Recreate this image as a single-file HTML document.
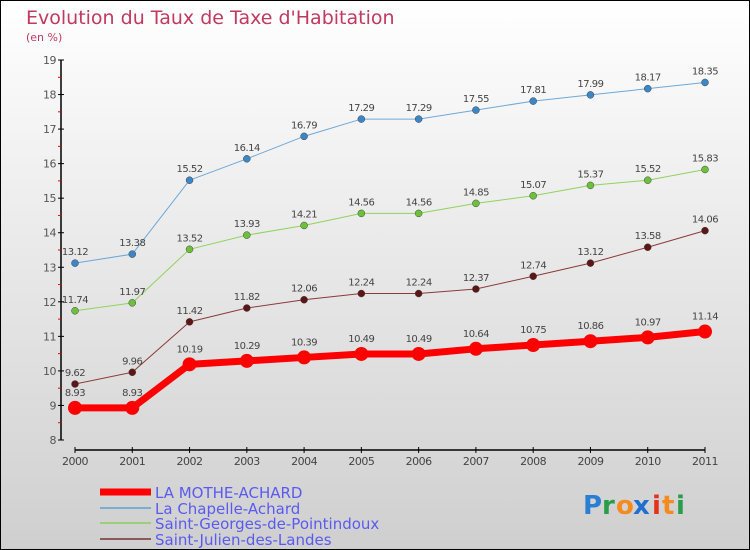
<!DOCTYPE html>
<html><head><meta charset="utf-8"><style>
body{margin:0;width:750px;height:550px;overflow:hidden}
svg{display:block;font-family:"DejaVu Sans","Liberation Sans",sans-serif}
</style></head><body>
<svg id="c" width="750" height="550" xmlns="http://www.w3.org/2000/svg">
<defs>
<linearGradient id="bg" x1="0" y1="0" x2="0" y2="1"><stop offset="0" stop-color="#ffffff"/><stop offset="1" stop-color="#cfcfcf"/></linearGradient>
</defs>
<rect x="0.5" y="0.5" width="749" height="549" fill="url(#bg)" stroke="#000"/>
<text x="26" y="24" font-size="19" fill="#c0395f">Evolution du Taux de Taxe d'Habitation</text>
<text x="26" y="41" font-size="11" fill="#c0395f">(en %)</text>
<g id="axes"></g>
<g id="series"></g>
<g id="legend"></g>
<g font-family="'DejaVu Sans',sans-serif" font-size="26" font-weight="bold">
<text x="583" y="514" fill="#2a7fd4">P</text><text x="602" y="514" fill="#2a9d4a">r</text><text x="616" y="514" fill="#f58a1f">o</text><text x="633" y="514" fill="#1f6fd0">x</text><text x="652" y="514" fill="#e5321c">i</text><text x="662" y="514" fill="#f58a1f">t</text><text x="676" y="514" fill="#2a9d4a">i</text>
</g>
</svg>
<script>
const years=["2000","2001","2002","2003","2004","2005","2006","2007","2008","2009","2010","2011"];
const yTicks=[8,9,10,11,12,13,14,15,16,17,18,19];
const mothe=[8.93,8.93,10.19,10.29,10.39,10.49,10.49,10.64,10.75,10.86,10.97,11.14];
const chapelle=[13.12,13.38,15.52,16.14,16.79,17.29,17.29,17.55,17.81,17.99,18.17,18.35];
const georges=[11.74,11.97,13.52,13.93,14.21,14.56,14.56,14.85,15.07,15.37,15.52,15.83];
const julien=[9.62,9.96,11.42,11.82,12.06,12.24,12.24,12.37,12.74,13.12,13.58,14.06];
const NS="http://www.w3.org/2000/svg";
const X=i=>75+i*(630/11);
const Y=v=>440-(v-8)*(380/11);
function mk(t,a,p){const e=document.createElementNS(NS,t);for(const k in a)e.setAttribute(k,a[k]);p.appendChild(e);return e;}
const ax=document.getElementById('axes');
let l=mk('line',{x1:61,y1:60,x2:61,y2:440,stroke:'#000','stroke-width':1.5},ax);

yTicks.forEach(v=>{
 mk('line',{x1:58,x2:64,y1:Y(v),y2:Y(v),stroke:'#000'},ax);
 if(v<19)mk('line',{x1:58,x2:61,y1:Y(v+0.5),y2:Y(v+0.5),stroke:'#e00'},ax);
 const t=mk('text',{x:56,y:Y(v)+4,'font-size':11,fill:'#555','text-anchor':'end','letter-spacing':'-0.5'},ax);
 t.textContent=v;
 
});
l=mk('line',{x1:75,y1:450,x2:705,y2:450,stroke:'#000','stroke-width':1.5},ax);

years.forEach((y,i)=>{
 mk('line',{x1:X(i),x2:X(i),y1:447,y2:453,stroke:'#000'},ax);
 const t=mk('text',{x:X(i),y:465,'font-size':11,fill:'#444','text-anchor':'middle','letter-spacing':'-0.5'},ax);
 t.textContent=y;
 
});
const series=[
 {name:'la-chapelle-achard',d:chapelle,c:'#6fa8d6',pc:'#3b86c6',w:1,r:3.5},
 {name:'saint-georges-de-pointindoux',d:georges,c:'#8fd35d',pc:'#6cc03a',w:1,r:3.5},
 {name:'saint-julien-des-landes',d:julien,c:'#8a3a3a',pc:'#5e1515',w:1,r:3.5},
 {name:'la-mothe-achard',d:mothe,c:'#f00',pc:'#f00',w:7,r:7},
];
const sg=document.getElementById('series');
series.forEach(s=>{
 const g=mk('g',{},sg);
 
 const p=mk('polyline',{points:s.d.map((v,i)=>X(i)+','+Y(v)).join(' '),fill:'none',stroke:s.c,'stroke-width':s.w,'stroke-linejoin':'round'},g);
 
 s.d.forEach((v,i)=>{
  const c=mk('circle',{cx:X(i),cy:Y(v),r:s.r,fill:s.pc,stroke:s.w>1?'none':'#444','stroke-width':0.5},g);
  
  const t=mk('text',{x:X(i),y:Y(v)-(s.w>1?12:8),'font-size':10,fill:'#444','text-anchor':'middle','letter-spacing':'-0.5'},g);
  t.textContent=v;
  
 });
});
const lg=document.getElementById('legend');
const leg=[
 {n:'LA MOTHE-ACHARD',c:'#f00',w:7,y:492},
 {n:'La Chapelle-Achard',c:'#7aaed0',w:2,y:508},
 {n:'Saint-Georges-de-Pointindoux',c:'#9ad07a',w:2,y:523},
 {n:'Saint-Julien-des-Landes',c:'#8a5a5a',w:2,y:539},
];
leg.forEach(e=>{
 const g=mk('g',{},lg);
 
 mk('line',{x1:100,x2:151,y1:e.y,y2:e.y,stroke:e.c,'stroke-width':e.w},g);
 const t=mk('text',{x:155,y:e.y+6,'font-size':15,fill:'#5a5af0'},g);
 t.textContent=e.n;
});
</script>
</body></html>
